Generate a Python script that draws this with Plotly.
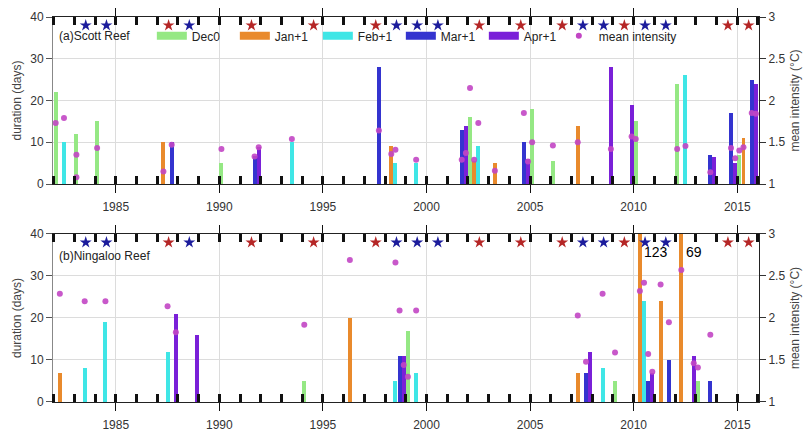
import plotly.graph_objects as go

# ---------------- data ----------------
SERIES = ["Dec0", "Jan+1", "Feb+1", "Mar+1", "Apr+1"]

# Scott Reef (a)
SCOTT_DEC0_YEARS = [1982, 1983, 1983, 1984, 1990, 2002, 2005, 2006, 2010, 2012, 2015]
SCOTT_DEC0_DAYS = [22, 12, 0, 15, 5, 16, 18, 5.5, 15, 24, 7]
SCOTT_DEC0_INT = [1.73, 1.35, 1.08, 1.43, 1.42, 2.15, 1.50, 1.46, 1.54, 1.42, 1.40]

SCOTT_JAN1_YEARS = [1987, 1998, 2002, 2003, 2007, 2015]
SCOTT_JAN1_DAYS = [10, 9, 5.5, 5, 14, 11]
SCOTT_JAN1_INT = [1.15, 1.36, 1.29, 1.16, 1.50, 1.44]

SCOTT_FEB1_YEARS = [1982, 1993, 1998, 1999, 2002, 2012]
SCOTT_FEB1_DAYS = [10, 10, 5, 5, 9, 26]
SCOTT_FEB1_INT = [1.79, 1.54, 1.41, 1.29, 1.73, 1.455]

SCOTT_MAR1_YEARS = [1987, 1991, 1997, 2001, 2004, 2013, 2014, 2015]
SCOTT_MAR1_DAYS = [10, 6.7, 28, 13, 10, 7, 17, 25]
SCOTT_MAR1_INT = [1.47, 1.33, 1.64, 1.29, 1.85, 1.14, 1.43, 1.85]

SCOTT_APR1_YEARS = [1991, 2001, 2004, 2008, 2009, 2013, 2014, 2015]
SCOTT_APR1_DAYS = [8.8, 14, 6, 28, 19, 6.5, 5, 24]
SCOTT_APR1_INT = [1.44, 1.37, 1.27, 1.42, 1.57, None, 1.31, 1.84]

# Ningaloo Reef (b)
NING_DEC0_YEARS = [1994, 1999, 2009, 2013]
NING_DEC0_DAYS = [5, 17, 5, 5]
NING_DEC0_INT = [1.92, 1.30, 1.59, 1.41]

NING_JAN1_YEARS = [1982, 1996, 2007, 2010, 2011, 2012]
NING_JAN1_DAYS = [7, 20, 7, 123, 24, 69]
NING_JAN1_INT = [2.29, 2.69, 2.03, 2.32, 2.40, 2.57]

NING_FEB1_YEARS = [1983, 1984, 1987, 1998, 1999, 2008, 2010]
NING_FEB1_DAYS = [8, 19, 12, 5, 7, 8, 24]
NING_FEB1_INT = [2.20, 2.20, 2.14, 2.66, 2.09, 2.29, 2.42]

NING_MAR1_YEARS = [1998, 2007, 2010, 2011, 2013]
NING_MAR1_DAYS = [11, 7, 5, 10, 5]
NING_MAR1_INT = [2.09, 1.48, 1.57, 1.95, 1.80]

NING_APR1_YEARS = [1987, 1988, 1998, 2007, 2010, 2012]
NING_APR1_DAYS = [21, 16, 11, 12, 7, 11]
NING_APR1_INT = [1.83, None, 1.44, None, 1.36, 1.46]

# ENSO years (stars)
EL_NINO_YEARS = [1987, 1991, 1994, 1997, 2002, 2004, 2006, 2009, 2014, 2015]
LA_NINA_YEARS = [1983, 1984, 1988, 1998, 1999, 2000, 2007, 2008, 2010, 2011]

PANEL_LABELS = ["(a)Scott Reef", "(b)Ningaloo Reef"]
X_TICKS = [1985, 1990, 1995, 2000, 2005, 2010, 2015]
Y_TICKS = [0, 10, 20, 30, 40]
Y2_TICKS = [1, 1.5, 2, 2.5, 3]

# ---------------- style ----------------
OFFSET = {"Dec0": 0.1, "Jan+1": 0.3, "Feb+1": 0.5, "Mar+1": 0.7, "Apr+1": 0.9}
COLORS = {"Dec0": "#95e884", "Jan+1": "#e98a2c", "Feb+1": "#3fe6e6",
          "Mar+1": "#3434cf", "Apr+1": "#7a20d8"}
LEGEND_W = {"Dec0": 38, "Jan+1": 38, "Feb+1": 38, "Mar+1": 38, "Apr+1": 30}
DOT_COLOR = "#c246c4"
FONT = "Arial, Liberation Sans, sans-serif"
YMAX = 40

scott = {
    "Dec0": (SCOTT_DEC0_YEARS, SCOTT_DEC0_DAYS, SCOTT_DEC0_INT),
    "Jan+1": (SCOTT_JAN1_YEARS, SCOTT_JAN1_DAYS, SCOTT_JAN1_INT),
    "Feb+1": (SCOTT_FEB1_YEARS, SCOTT_FEB1_DAYS, SCOTT_FEB1_INT),
    "Mar+1": (SCOTT_MAR1_YEARS, SCOTT_MAR1_DAYS, SCOTT_MAR1_INT),
    "Apr+1": (SCOTT_APR1_YEARS, SCOTT_APR1_DAYS, SCOTT_APR1_INT),
}
ning = {
    "Dec0": (NING_DEC0_YEARS, NING_DEC0_DAYS, NING_DEC0_INT),
    "Jan+1": (NING_JAN1_YEARS, NING_JAN1_DAYS, NING_JAN1_INT),
    "Feb+1": (NING_FEB1_YEARS, NING_FEB1_DAYS, NING_FEB1_INT),
    "Mar+1": (NING_MAR1_YEARS, NING_MAR1_DAYS, NING_MAR1_INT),
    "Apr+1": (NING_APR1_YEARS, NING_APR1_DAYS, NING_APR1_INT),
}

fig = go.Figure()


def add_panel(data, xa, ya, ya2):
    for s in SERIES:
        yrs, days, _ = data[s]
        fig.add_trace(go.Bar(
            x=[y + OFFSET[s] for y in yrs], y=days, width=0.19,
            marker=dict(color=COLORS[s], line=dict(width=0)),
            xaxis=xa, yaxis=ya, showlegend=False, name=s))
    # stars
    fig.add_trace(go.Scatter(
        x=[y + 0.55 for y in EL_NINO_YEARS], y=[38] * len(EL_NINO_YEARS),
        mode="markers", marker=dict(symbol="star", size=9, color="#b52626"),
        xaxis=xa, yaxis=ya, showlegend=False, cliponaxis=False))
    fig.add_trace(go.Scatter(
        x=[y + 0.55 for y in LA_NINA_YEARS], y=[38] * len(LA_NINA_YEARS),
        mode="markers", marker=dict(symbol="star", size=9, color="#1c1c9c"),
        xaxis=xa, yaxis=ya, showlegend=False, cliponaxis=False))
    # intensity dots
    xs, ys = [], []
    for s in SERIES:
        yrs, _, ints = data[s]
        for y, v in zip(yrs, ints):
            if v is not None:
                xs.append(y + OFFSET[s])
                ys.append(v)
    fig.add_trace(go.Scatter(
        x=xs, y=ys, mode="markers",
        marker=dict(size=6, color=DOT_COLOR, opacity=0.9),
        xaxis=xa, yaxis=ya2, showlegend=False))


add_panel(scott, "x", "y", "y2")
add_panel(ning, "x2", "y3", "y4")

# clipped-bar value labels
for s in SERIES:
    yrs, days, _ = ning[s]
    for y, d in zip(yrs, days):
        if d > YMAX:
            fig.add_annotation(x=y + OFFSET[s] + 0.12, y=35.8, xref="x2", yref="y3",
                               text=str(d), showarrow=False, xanchor="left",
                               font=dict(size=14, color="black", family=FONT))

# legend-only traces
for s in SERIES:
    fig.add_trace(go.Scatter(x=[None], y=[None], mode="lines",
                             line=dict(color=COLORS[s], width=8), name=s,
                             legendwidth=LEGEND_W[s], xaxis="x", yaxis="y"))
fig.add_trace(go.Scatter(x=[None], y=[None], mode="markers",
                         marker=dict(color=DOT_COLOR, size=6), name="mean intensity",
                         legendwidth=95, xaxis="x", yaxis="y"))

xcommon = dict(range=[1981.97, 2016.05], tickvals=X_TICKS, ticks="outside", ticklen=8,
               tickwidth=1, tickcolor="#111", showline=True, linecolor="#222",
               linewidth=1, mirror="ticks", showgrid=True, gridcolor="#dcdcdc",
               zeroline=False, ticklabelstandoff=4,
               tickfont=dict(size=12, color="#333", family=FONT),
               minor=dict(dtick=1, tick0=1982, ticks="inside", ticklen=8,
                          tickwidth=2.5, tickcolor="#111", showgrid=False))
ycommon = dict(range=[0, YMAX], tickvals=Y_TICKS, ticks="outside", ticklen=6,
               tickcolor="#555", showline=True, linecolor="#888", linewidth=1,
               showgrid=True, gridcolor="#dcdcdc", zeroline=False,
               tickfont=dict(size=12, color="#333", family=FONT),
               title=dict(text="duration (days)", standoff=6,
                          font=dict(size=12, color="#444", family=FONT)))
y2common = dict(range=[1, 3], tickvals=Y2_TICKS, ticks="outside", ticklen=6,
                tickcolor="#333", showline=True, linecolor="#222", side="right",
                showgrid=False, zeroline=False,
                tickfont=dict(size=12, color="#333", family=FONT),
                title=dict(text="mean intensity (°C)", standoff=6,
                           font=dict(size=12, color="#444", family=FONT)))

fig.update_layout(
    width=809, height=431,
    margin=dict(l=53, r=50, t=17, b=29, autoexpand=False),
    paper_bgcolor="white", plot_bgcolor="white",
    barmode="overlay", bargap=0,
    font=dict(family=FONT, size=12, color="#333"),
    xaxis=dict(domain=[0, 1], anchor="y", **xcommon),
    yaxis=dict(domain=[0.5662, 1], anchor="x", **ycommon),
    yaxis2=dict(anchor="x", overlaying="y", **y2common),
    xaxis2=dict(domain=[0, 1], anchor="y3", **xcommon),
    yaxis3=dict(domain=[0, 0.4364], anchor="x2", **ycommon),
    yaxis4=dict(anchor="x2", overlaying="y3", **y2common),
    showlegend=True,
    legend=dict(orientation="h", x=0.14, y=0.951, xanchor="left", yanchor="middle",
                bgcolor="rgba(0,0,0,0)", itemwidth=30,
                font=dict(size=12, color="#222", family=FONT)),
)

fig.add_annotation(x=0.006, y=0.951, xref="paper", yref="paper", text=PANEL_LABELS[0],
                   showarrow=False, xanchor="left", yanchor="middle",
                   font=dict(size=12, color="#222", family=FONT))
fig.add_annotation(x=0.006, y=0.379, xref="paper", yref="paper", text=PANEL_LABELS[1],
                   showarrow=False, xanchor="left", yanchor="middle",
                   font=dict(size=12, color="#222", family=FONT))

fig.write_html("out.html", config={"displayModeBar": False},
               post_script="document.body.style.margin='0';")
